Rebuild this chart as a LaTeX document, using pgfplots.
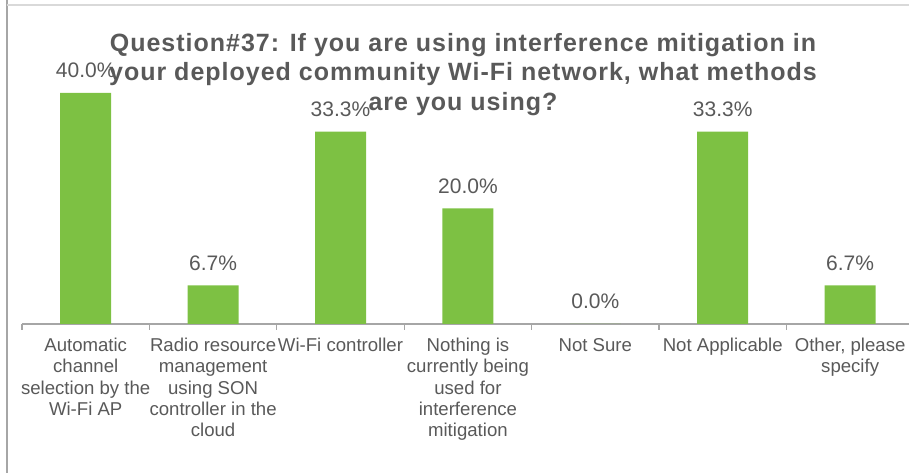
\documentclass[border=0pt]{standalone}
\usepackage{fontspec}
\setmainfont{Liberation Sans}
\usepackage{pgfplots}
\pgfplotsset{compat=1.18}
\definecolor{bargreen}{HTML}{7DC143}
\definecolor{txtgray}{HTML}{595959}
\definecolor{axgray}{HTML}{A6A6A6}

\begin{document}
\begin{tikzpicture}[x=1pt,y=1pt]
% frame of the chart area
\draw[color=axgray, line width=1.5pt] (7,0) -- (7,473);
\draw[color=black!15, line width=1.2pt] (7,468) -- (909,468);

\begin{axis}[
    at={(22pt,149pt)}, anchor=south west,
    scale only axis,
    width=887pt, height=260pt,
    xmin=-0.5, xmax=6.462,
    ymin=0, ymax=45,
    axis x line*=bottom,
    axis y line=none,
    axis line style={color=axgray, line width=1.2pt},
    xtick={0,1,2,3,4,5,6},
    major tick length=0pt,
    minor xtick={-0.5,0.5,1.5,2.5,3.5,4.5,5.5},
    minor tick length=6pt,
    tick align=outside,
    minor tick style={color=axgray, line width=1.2pt},
    xticklabels={
        {Automatic\\channel\\selection by the\\Wi-Fi AP},
        {Radio resource\\management\\using SON\\controller in the\\cloud},
        {Wi-Fi controller},
        {Nothing is\\currently being\\used for\\interference\\mitigation},
        {Not Sure},
        {Not Applicable},
        {Other, please\\specify}
    },
    xticklabel style={align=center, text=txtgray, anchor=north, inner sep=0pt,
        yshift=-14pt, font=\fontsize{18.6}{21.2}\selectfont},
    ybar, bar width=51pt,
    nodes near coords={\pgfmathprintnumber[fixed,fixed zerofill,precision=1]{\pgfplotspointmeta}\%},
    nodes near coords style={anchor=base, yshift=15pt, inner sep=0pt, text=txtgray,
        font=\fontsize{21}{25}\selectfont},
    /pgf/number format/assume math mode=true,
    clip=false,
]
\addplot[fill=bargreen, draw=none] coordinates {
    (0,40.0) (1,6.7) (2,33.3) (3,20.0) (4,0.0) (5,33.3) (6,6.7)
};
\end{axis}

\node[font=\bfseries\fontsize{25}{29.5}\selectfont\addfontfeature{LetterSpace=4},
      text=txtgray, align=center, anchor=north, inner sep=0pt] at (463,440)
    {Question\#37: If you are using interference mitigation in\\
     your deployed community Wi-Fi network, what methods\\
     are you using?};

\pgfresetboundingbox
\path[use as bounding box] (0,0) rectangle (909,473);
\end{tikzpicture}
\end{document}
